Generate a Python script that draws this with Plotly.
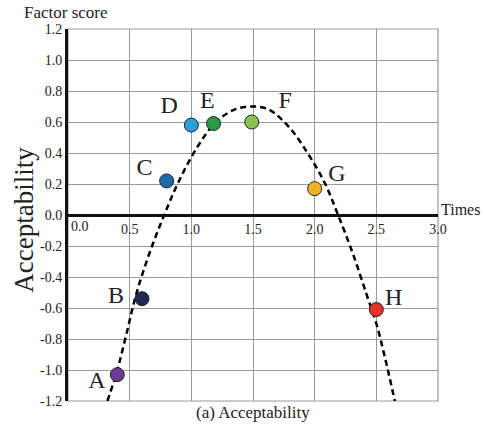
import plotly.graph_objects as go

# Data
labels = ["A", "B", "C", "D", "E", "F", "G", "H"]
times = [0.40, 0.60, 0.80, 1.00, 1.18, 1.49, 2.00, 2.50]
scores = [-1.03, -0.54, 0.22, 0.58, 0.59, 0.60, 0.17, -0.61]
colors = ["#6b3a96", "#1f2a55", "#1e68ae", "#2aa0d9", "#2a9a4a", "#8bc153", "#f0b429", "#e8312a"]

label_x = [0.235, 0.39, 0.62, 0.82, 1.13, 1.76, 2.18, 2.64]
label_y = [-1.08, -0.53, 0.30, 0.70, 0.73, 0.73, 0.26, -0.54]

fit_x = [0.32, 0.40, 0.47, 0.55, 0.65, 0.78, 0.90, 1.05, 1.20, 1.35, 1.49,
         1.63, 1.80, 1.95, 2.08, 2.19, 2.31, 2.42, 2.50, 2.57, 2.65]
fit_y = [-1.20, -1.00, -0.78, -0.52, -0.27, 0.00, 0.22, 0.44, 0.60, 0.68, 0.70,
         0.68, 0.56, 0.39, 0.21, 0.00, -0.25, -0.51, -0.70, -0.92, -1.20]

x_ticks = [0.5, 1.0, 1.5, 2.0, 2.5, 3.0]
y_ticks = [1.2, 1.0, 0.8, 0.6, 0.4, 0.2, 0.0, -0.2, -0.4, -0.6, -0.8, -1.0, -1.2]

FONT = "Liberation Serif, Times New Roman, serif"

fig = go.Figure()
fig.add_trace(go.Scatter(
    x=fit_x, y=fit_y, mode="lines",
    line=dict(color="black", width=2.5, dash="6px,4px", shape="spline"),
    hoverinfo="skip", showlegend=False, cliponaxis=True,
))
fig.add_trace(go.Scatter(
    x=times, y=scores, mode="markers",
    marker=dict(size=14, color=colors, line=dict(color="#222222", width=1)),
    showlegend=False, cliponaxis=False,
))
fig.add_trace(go.Scatter(
    x=label_x, y=label_y, mode="text", text=labels,
    textfont=dict(family=FONT, size=24, color="#222222"),
    showlegend=False, cliponaxis=False,
))

def note(text, x, y, size, **kw):
    d = dict(text=text, x=x, y=y, xref="paper", yref="paper", xanchor="center",
             yanchor="middle", showarrow=False, font=dict(family=FONT, size=size, color="#222"))
    d.update(kw)
    return d

annotations = [
    dict(text="0.0", x=0.0, y=0.0, xref="x", yref="y", xanchor="left", yanchor="top",
         xshift=1, yshift=-2, showarrow=False, font=dict(family=FONT, size=14, color="#222")),
    note("Factor score", -0.005, 1.045, 17),
    note("Acceptability", -0.119, 0.487, 27, textangle=-90),
    note("Times", 1.062, 0.516, 16),
    note("(a) Acceptability", 0.5, -0.032, 17),
    note("Factor score", -0.005, -0.094, 17),
]

fig.update_layout(
    width=484, height=428,
    margin=dict(l=68, r=46, t=29, b=27),
    paper_bgcolor="white", plot_bgcolor="white",
    annotations=annotations,
    shapes=[dict(type="rect", xref="paper", yref="paper", x0=0, x1=1, y0=0, y1=1,
                 line=dict(color="#9a9a9a", width=1.2), layer="below")],
    xaxis=dict(
        range=[0, 3], tickvals=x_ticks, ticktext=[f"{v:.1f}" for v in x_ticks],
        showgrid=True, gridcolor="#9a9a9a", gridwidth=1.2, zeroline=False,
        anchor="free", position=0.5, showline=True, linecolor="#111", linewidth=2.5,
        ticks="", tickfont=dict(family=FONT, size=14, color="#222"),
    ),
    yaxis=dict(
        range=[-1.2, 1.2], tickvals=y_ticks, ticktext=[f"{v:.1f}" for v in y_ticks],
        showgrid=True, gridcolor="#9a9a9a", gridwidth=1.2, zeroline=False,
        showline=True, linecolor="#111", linewidth=3, ticks="",
        tickfont=dict(family=FONT, size=14, color="#222"),
    ),
)

fig.write_html("out.html", config={"displayModeBar": False},
               post_script="document.body.style.margin='0';document.body.style.overflow='hidden';")
